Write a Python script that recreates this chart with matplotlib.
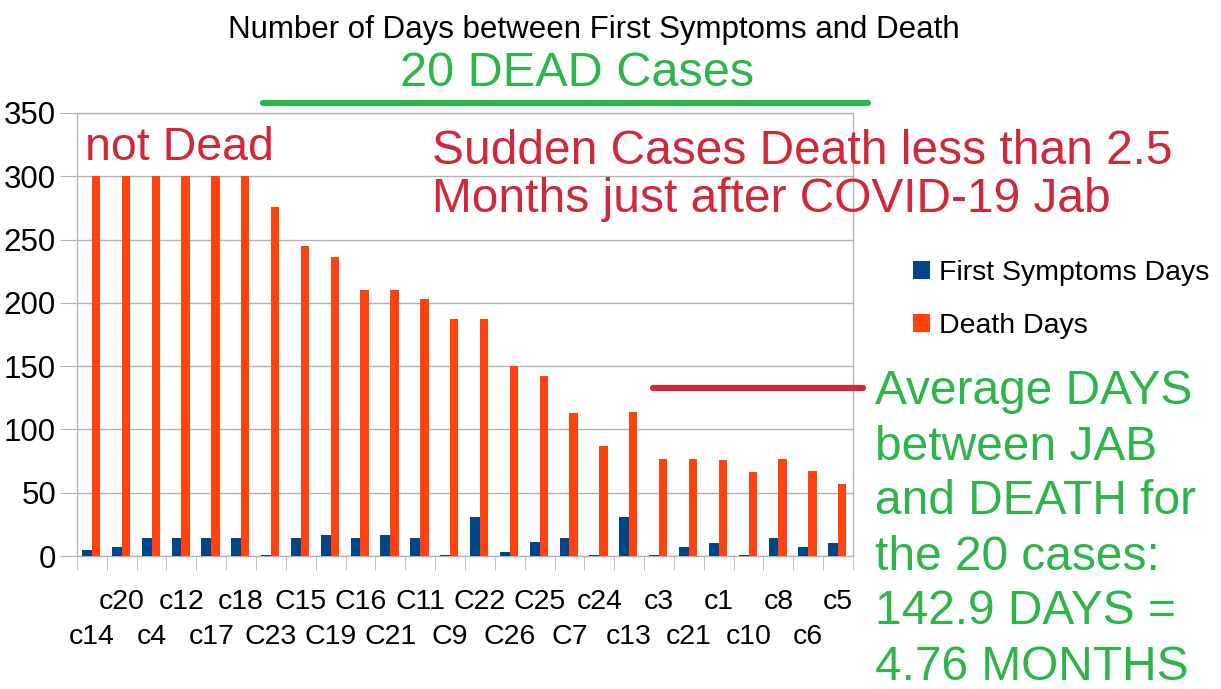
import numpy as np
import matplotlib
matplotlib.use("Agg")
import matplotlib.pyplot as plt
from matplotlib.lines import Line2D
from matplotlib.transforms import offset_copy

plt.rcParams['font.family'] = ['Liberation Sans', 'DejaVu Sans']

cases = ["c14", "c20", "c4", "c12", "c17", "c18", "C23", "C15", "C19", "C16",
         "C21", "C11", "C9", "C22", "C26", "C25", "C7", "c24", "c13", "c3",
         "c21", "c1", "c10", "c8", "c6", "c5"]
first_symptoms = [5, 7, 14, 14, 14, 14, 1, 14, 17, 14,
                  17, 14, 1, 31, 3, 11, 14, 1, 31, 1,
                  7, 10, 1, 14, 7, 10]
death_days = [300, 300, 300, 300, 300, 300, 276, 245, 236, 210,
              210, 203, 187, 187, 150, 142, 113, 87, 114, 77,
              77, 76, 66, 77, 67, 57]
avg_line = 133

blue = "#004586"
orange = "#ff420e"
red_txt = "#d0273a"
green_txt = "#2db54a"
grid_c = "#b3b3b3"

fig = plt.figure(figsize=(12.21, 6.89), dpi=100)
ax = fig.add_axes([0.063, 0.193, 0.6356, 0.643])

x = np.arange(len(cases))
ax.bar(x - 0.16, first_symptoms, width=0.34, color=blue, label="First Symptoms Days", zorder=3)
ax.bar(x + 0.14, death_days, width=0.28, color=orange, label="Death Days", zorder=3)

ax.set_xlim(-0.5, len(cases) - 0.5)
ax.set_ylim(0, 350)
ax.set_yticks(range(0, 351, 50))
ax.yaxis.grid(True, color=grid_c, linewidth=1, zorder=0)
for s in ax.spines.values():
    s.set_color(grid_c)
    s.set_linewidth(1)

# case labels in two staggered rows
ax.set_xticks(x)
ax.set_xticklabels([])
ax.set_xticks(np.arange(-0.5, len(cases), 1), minor=True)
ax.tick_params(axis='x', which='major', length=0)
ax.tick_params(axis='x', which='minor', length=10, color=grid_c)
ax.tick_params(axis='y', length=12, color=grid_c, labelsize=22.5, pad=3)

top_tr = offset_copy(ax.get_xaxis_transform(), fig=fig, x=0, y=-46, units='dots')
bot_tr = offset_copy(ax.get_xaxis_transform(), fig=fig, x=0, y=-81, units='dots')
for i, c in enumerate(cases):
    ax.text(i, 0, c, transform=bot_tr if i % 2 == 0 else top_tr,
            ha='center', va='center', fontsize=20.5, clip_on=False)

fig.legend(loc='upper left', bbox_to_anchor=(0.748, 0.622), frameon=False,
           fontsize=20.5, handlelength=0.6, handleheight=0.6, handletextpad=0.3,
           labelspacing=0.95, borderpad=0, borderaxespad=0)

fig.text(0.486, 0.956, "Number of Days between First Symptoms and Death",
         ha='center', va='center', fontsize=22.5)
fig.text(0.473, 0.894, "20 DEAD Cases", ha='center', va='center',
         fontsize=35, color=green_txt)
fig.add_artist(Line2D([263 / 1221, 868 / 1221], [1 - 103 / 689, 1 - 103 / 689],
                      color=green_txt, linewidth=4.5, solid_capstyle='round'))

ax.text(0.01, 0.97, "not Dead", transform=ax.transAxes, ha='left', va='top',
        fontsize=33.5, color=red_txt)
fig.text(0.354, 1 - 152 / 689, "Sudden Cases Death less than 2.5",
         ha='left', va='center', fontsize=34.5, color=red_txt)
fig.text(0.354, 1 - 199 / 689, "Months just after COVID-19 Jab",
         ha='left', va='center', fontsize=34.5, color=red_txt)

ax.plot([18.8, 25.85], [avg_line, avg_line], color=red_txt, linewidth=4.5,
        solid_capstyle='round', clip_on=False, zorder=4)

avg_lines = ["Average DAYS", "between JAB", "and DEATH for", "the 20 cases:",
             "142.9 DAYS =", "4.76 MONTHS"]
for i, t in enumerate(avg_lines):
    fig.text(0.7166, 1 - (392 + 55 * i) / 689, t, ha='left', va='center',
             fontsize=34.5, color=green_txt)

fig.savefig("out.png", dpi=100)
